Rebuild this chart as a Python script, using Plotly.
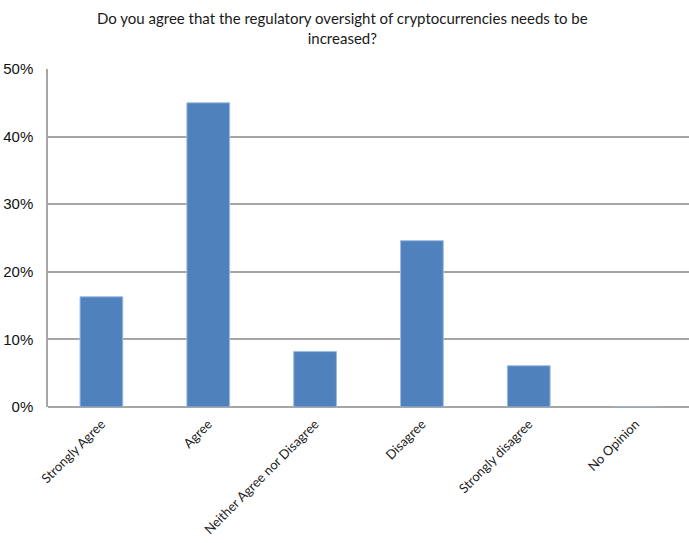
import plotly.graph_objects as go

categories = ["Strongly Agree", "Agree", "Neither Agree nor Disagree",
              "Disagree", "Strongly disagree", "No Opinion"]
shares = [0.163, 0.450, 0.082, 0.246, 0.061, 0.0]
y_ticks = [0, 0.1, 0.2, 0.3, 0.4, 0.5]
y_tick_labels = ["0%", "10%", "20%", "30%", "40%", "50%"]
title_text = ("Do you agree that the regulatory oversight of cryptocurrencies needs to be"
              "<br>increased?")

fig = go.Figure(
    go.Bar(
        x=categories,
        y=shares,
        marker=dict(color="#4f81bd", line=dict(color="#9dbbe0", width=1)),
        hoverinfo="x+y",
    )
)

fig.update_layout(
    width=689,
    height=543,
    margin=dict(l=48, r=0, t=69, b=136),
    paper_bgcolor="white",
    plot_bgcolor="white",
    bargap=0.6,
    showlegend=False,
)

# Two-line chart heading placed above the plot area
fig.add_annotation(
    text=title_text,
    xref="paper",
    yref="paper",
    x=0.46,
    y=1.12,
    xanchor="center",
    yanchor="middle",
    showarrow=False,
    align="center",
    font=dict(family="Lato, Open Sans, sans-serif", size=15, color="#1a1a1a"),
)

fig.update_xaxes(
    tickangle=-45,
    tickfont=dict(family="Lato, Open Sans, sans-serif", size=13, color="#222222"),
    showline=False,
    showgrid=False,
    ticks="",
    ticklabelstandoff=6,
)

fig.update_yaxes(
    range=[0, 0.5],
    tickvals=y_ticks,
    ticktext=y_tick_labels,
    tickfont=dict(family="Liberation Sans, Arial, sans-serif", size=15, color="#111111"),
    showgrid=True,
    gridcolor="#a6a6a6",
    gridwidth=1.5,
    zeroline=True,
    zerolinecolor="#a6a6a6",
    zerolinewidth=1.5,
    showline=True,
    linecolor="#a6a6a6",
    linewidth=1.5,
    ticks="",
    ticklabelstandoff=10,
)

fig.write_html("out.html")
